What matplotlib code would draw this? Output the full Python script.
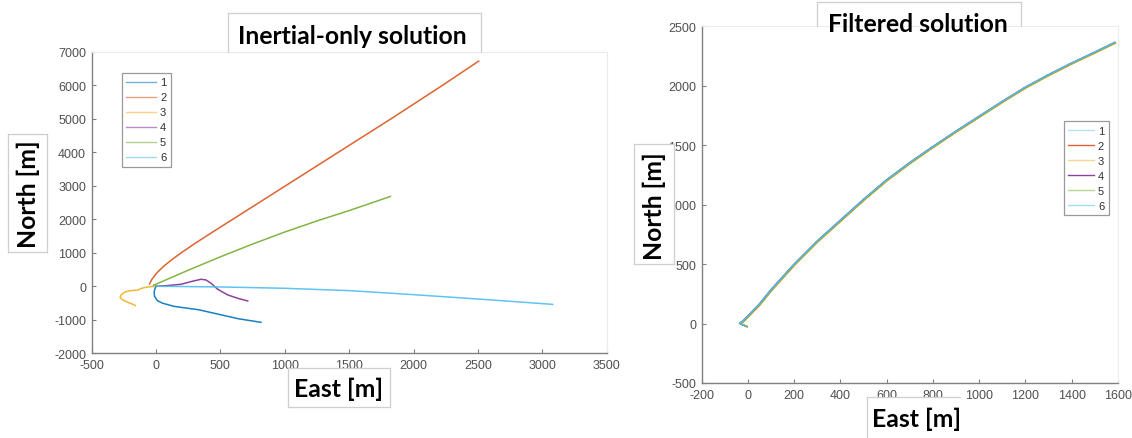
import matplotlib
matplotlib.use('Agg')
import matplotlib.pyplot as plt
from matplotlib.patches import Rectangle
from matplotlib.lines import Line2D

plt.rcParams['font.family'] = 'Liberation Sans'
plt.rcParams['axes.unicode_minus'] = False

# ---- inertial-only trajectories (East, North) [m]
east1 = [0, -8, -15, -12, 10, 50, 140, 330, 480, 640, 815]
north1 = [0, -60, -160, -300, -430, -505, -600, -700, -830, -970, -1075]
east2 = [-50, -34, 6, 60, 124, 196, 291, 391, 493, 596, 801, 1006, 1416, 1826, 2226, 2506]
north2 = [70, 200, 400, 600, 800, 1000, 1250, 1500, 1750, 2000, 2500, 3000, 4000, 5000, 6000, 6720]
east3 = [0, -40, -78, -116, -140, -168, -207, -246, -272, -280, -259, -220, -181, -161]
north3 = [0, -10, -30, -65, -110, -122, -135, -179, -259, -328, -408, -478, -537, -577]
east4 = [0, 91, 194, 272, 349, 388, 427, 479, 557, 634, 712]
north4 = [0, 21, 60, 140, 209, 189, 90, -90, -259, -358, -438]
east5 = [-20, 100, 250, 500, 750, 1000, 1250, 1500, 1820]
north5 = [30, 230, 480, 880, 1260, 1620, 1950, 2260, 2680]
east6 = [0, 500, 1000, 1500, 2000, 2500, 3080]
north6 = [0, -20, -60, -130, -250, -380, -540]
inertial = [(east1, north1), (east2, north2), (east3, north3),
            (east4, north4), (east5, north5), (east6, north6)]

# ---- filtered solution: shared track plus small per-run offsets
east_f = [-5, -35, -20, 0, 50, 100, 200, 300, 400, 500, 600, 700, 800, 900,
          1000, 1100, 1200, 1300, 1400, 1500, 1587]
north_f = [-25, 0, 20, 60, 160, 280, 495, 690, 865, 1040, 1205, 1350, 1485, 1615,
           1740, 1865, 1985, 2090, 2188, 2280, 2362]
off_east = [0, 2, 2, -2, 1, -1]
off_north = [0, -2, -4, 2, 1, 2]

labels = ['1', '2', '3', '4', '5', '6']
colors_l = ['#0072BD', '#D95319', '#EDB120', '#7E2F8E', '#77AC30', '#4DBEEE']
colors_r = ['#6cc3ee', '#D95319', '#EDB120', '#7E2F8E', '#77AC30', '#4DBEEE']

W, H = 1132, 439
fig = plt.figure(figsize=(W / 100, H / 100), dpi=100)


def px(x, y):
    return x / W, 1 - y / H


def style_axes(ax):
    for s in ['left', 'bottom']:
        ax.spines[s].set_color('#808080')
        ax.spines[s].set_linewidth(1.0)
    for s in ['top', 'right']:
        ax.spines[s].set_color('#ececec')
        ax.spines[s].set_linewidth(0.8)
    ax.tick_params(direction='in', length=3, width=0.8, color='#808080',
                   labelsize=9, labelcolor='#505050', pad=4,
                   top=False, right=False)


def label_box(x0, y0, x1, y1, sides='ltrb'):
    fig.patches.append(Rectangle(px(x0, y1), (x1 - x0) / W, (y1 - y0) / H,
                                 transform=fig.transFigure, facecolor='white',
                                 edgecolor='none', zorder=5))
    segs = {'l': ((x0, x0), (y0, y1)), 'r': ((x1, x1), (y0, y1)),
            't': ((x0, x1), (y0, y0)), 'b': ((x0, x1), (y1, y1))}
    for s in sides:
        xs, ys = segs[s]
        fig.lines.append(Line2D([x / W for x in xs], [1 - y / H for y in ys],
                                transform=fig.transFigure, color='#cfcfcf',
                                lw=0.9, zorder=6))


def big_text(x, y, s, rot=0):
    fig.text(x / W, 1 - y / H, s, ha='center', va='center', rotation=rot,
             fontsize=17.8, fontweight='bold', family='Lato', color='black',
             zorder=7)


# ---- left panel
ax1 = fig.add_axes([91.7 / W, 1 - 354.3 / H, (606.7 - 91.7) / W, (354.3 - 52.7) / H])
for (e, n), c, lab in zip(inertial, colors_l, labels):
    ax1.plot(e, n, color=c, lw=1.1, alpha=0.9, label=lab)
ax1.set_xlim(-500, 3500)
ax1.set_ylim(-2000, 7000)
ax1.set_xticks(range(-500, 3501, 500))
ax1.set_yticks(range(-2000, 7001, 1000))
style_axes(ax1)
leg1 = ax1.legend(loc='upper left', bbox_to_anchor=px(121.7, 74),
                  bbox_transform=fig.transFigure, fontsize=8, frameon=True,
                  fancybox=False, edgecolor='#808080', borderpad=0.4,
                  labelspacing=0.45, handlelength=2.7, handletextpad=0.35,
                  borderaxespad=0)
leg1.get_frame().set_linewidth(0.9)
for t in leg1.get_texts():
    t.set_color('#303030')
for h in leg1.get_lines():
    h.set_alpha(0.55)
    h.set_linewidth(1.0)

# ---- right panel
ax2 = fig.add_axes([701.7 / W, 1 - 384 / H, (1118 - 701.7) / W, (384 - 27.3) / H])
for i, (c, lab) in enumerate(zip(colors_r, labels)):
    ax2.plot([v + off_east[i] for v in east_f], [v + off_north[i] for v in north_f],
             color=c, lw=1.0, label=lab)
ax2.set_xlim(-200, 1600)
ax2.set_ylim(-500, 2500)
ax2.set_xticks(range(-200, 1601, 200))
ax2.set_yticks(range(-500, 2501, 500))
style_axes(ax2)
leg2 = ax2.legend(loc='upper left', bbox_to_anchor=px(1064, 122.3),
                  bbox_transform=fig.transFigure, fontsize=8, frameon=True,
                  fancybox=False, edgecolor='#808080', borderpad=0.4,
                  labelspacing=0.45, handlelength=2.3, handletextpad=0.35,
                  borderaxespad=0)
leg2.get_frame().set_linewidth(0.9)
for t in leg2.get_texts():
    t.set_color('#303030')
for h, a in zip(leg2.get_lines(), [0.5, 0.9, 0.5, 0.9, 0.5, 0.5]):
    h.set_alpha(a)

# ---- pasted label boxes
label_box(228, 14, 481, 52.7, 'ltr')
big_text(352, 36, 'Inertial-only solution')
label_box(8, 135, 47, 253)
big_text(28, 194, 'North [m]', rot=90)
label_box(288, 369, 390, 408)
big_text(339, 389, 'East [m]')

label_box(817, 3, 1021, 27.3, 'ltr')
big_text(918, 25, 'Filtered solution')
label_box(634, 145, 674, 265)
big_text(654, 206, 'North [m]', rot=90)
label_box(867, 398, 960, 439, 'lt')
big_text(917, 419, 'East [m]')

fig.savefig('out.png', dpi=100, facecolor='white')
